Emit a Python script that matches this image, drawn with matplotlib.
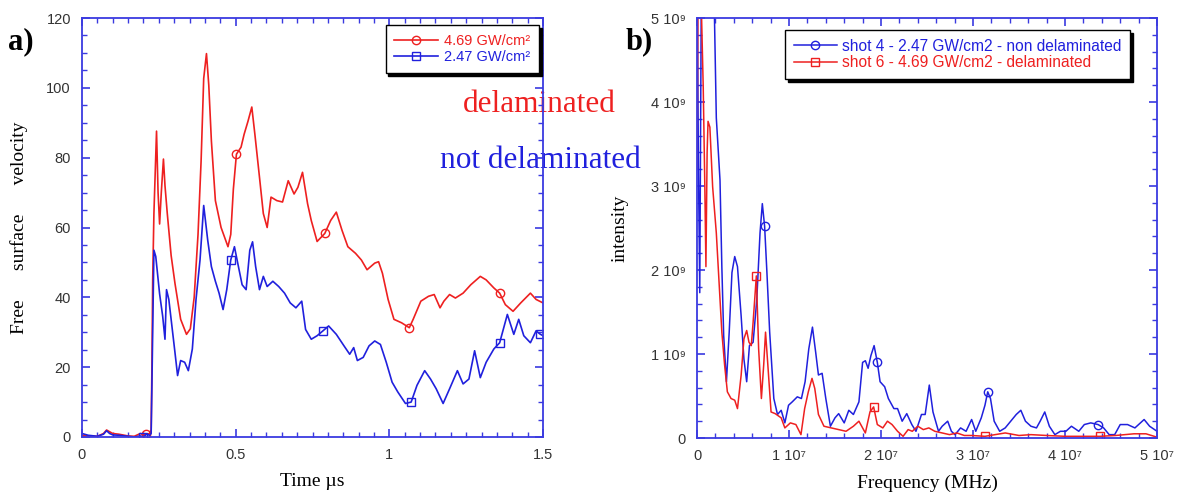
import numpy as np
import matplotlib
matplotlib.use('Agg')
import matplotlib.pyplot as plt
from matplotlib.ticker import MultipleLocator, FuncFormatter

# ---- panel a) free surface velocity vs time (us) ----
t_red = [0.0, 0.02, 0.05, 0.07, 0.08, 0.09, 0.1, 0.12, 0.15, 0.17, 0.19, 0.2, 0.209, 0.22, 0.225,
         0.2275, 0.23, 0.234, 0.2425, 0.2475, 0.2525, 0.258, 0.265, 0.27, 0.2775, 0.29, 0.3025,
         0.321, 0.34, 0.3525, 0.365, 0.3775, 0.3875, 0.396, 0.405, 0.4125, 0.421, 0.434, 0.4525,
         0.475, 0.484, 0.4925, 0.5025, 0.5175, 0.5275, 0.54, 0.5525, 0.5625, 0.5775, 0.59, 0.6025,
         0.615, 0.634, 0.6525, 0.671, 0.69, 0.7025, 0.7175, 0.734, 0.746, 0.765, 0.79, 0.809,
         0.8275, 0.846, 0.865, 0.89, 0.909, 0.9275, 0.9525, 0.965, 0.9775, 0.996, 1.015, 1.04,
         1.065, 1.0775, 1.1025, 1.1275, 1.146, 1.165, 1.1775, 1.196, 1.215, 1.24, 1.265, 1.296,
         1.315, 1.34, 1.359, 1.3775, 1.4025, 1.4275, 1.459, 1.4775, 1.5]
v_red = [0.5, 0.3, 0.2, 1.0, 2.0, 1.5, 1.0, 0.8, 0.3, 0.2, 1.0, 0.6, 0.8, 1.0, 2.0,
         20, 45, 64, 87.6, 70, 61, 70, 79.6, 72, 64, 52, 44,
         33.7, 29.4, 31, 40, 58, 79, 102.7, 109.8, 100.8, 84.8, 67.7, 60,
         54.5, 58, 71, 81, 83, 86.7, 90.4, 94.5, 86.7, 74.4, 64, 60,
         68.7, 67.7, 67.3, 73.4, 69.6, 71.5, 75.8, 66.8, 62, 56, 58.3, 62,
         64.4, 59.2, 54.5, 52.6, 50.7, 47.9, 49.8, 50.2, 46.9, 39.4, 33.7, 32.7,
         31.3, 33.7, 38.9, 40.3, 40.8, 37, 38.9, 40.8, 39.8, 41.2, 43.6, 46,
         45, 42.7, 41.2, 37.9, 36, 38.4, 41.2, 39.4, 38.4]
red_mark_t = [0.209, 0.5025, 0.79, 1.065, 1.359]

t_blue = [0.0, 0.02, 0.05, 0.07, 0.08, 0.09, 0.1, 0.12, 0.15, 0.17, 0.19, 0.2, 0.21, 0.22, 0.225,
          0.2275, 0.23, 0.234, 0.24, 0.2525, 0.2625, 0.27, 0.275, 0.2825, 0.2925, 0.3025, 0.311,
          0.321, 0.334, 0.346, 0.359, 0.371, 0.384, 0.396, 0.409, 0.421, 0.434, 0.446, 0.459,
          0.471, 0.484, 0.496, 0.509, 0.521, 0.534, 0.546, 0.555, 0.565, 0.5775, 0.59, 0.6025,
          0.621, 0.64, 0.659, 0.6775, 0.696, 0.715, 0.7275, 0.746, 0.765, 0.784, 0.8025, 0.8275,
          0.8525, 0.871, 0.884, 0.896, 0.915, 0.934, 0.9525, 0.971, 0.99, 1.009, 1.0275, 1.0525,
          1.071, 1.09, 1.115, 1.134, 1.1525, 1.175, 1.196, 1.2215, 1.24, 1.259, 1.2775, 1.296,
          1.315, 1.34, 1.359, 1.384, 1.405, 1.421, 1.4375, 1.459, 1.4775, 1.49, 1.5]
v_blue = [1.0, 0.5, 0.2, 0.8, 1.8, 1.0, 0.6, 0.5, 0.2, 0.0, 0.3, 0.0, 0.8, 0.5, 1.0,
          15, 30, 53.5, 51.7, 41, 34.6, 28, 42.2, 39.4, 31.8, 24.2, 17.6,
          21.9, 21.4, 19, 25.2, 39.4, 50.7, 66.3, 56.4, 48.8, 44.6, 41.2, 36.5,
          42.2, 50.7, 54.5, 48.8, 43.6, 42.2, 53.5, 55.9, 48.8, 42.2, 46, 43.1,
          44.6, 43.1, 41.2, 38.4, 37, 38.9, 30.8, 28, 29, 30.4, 31.8, 29.4,
          26.1, 23.7, 25.6, 21.9, 22.8, 26.1, 27.5, 26.5, 21.4, 15.7, 12.9, 9.6,
          10, 14.8, 19, 16.6, 13.8, 9.6, 13.8, 19, 15.2, 16.6, 24.7, 17,
          21.4, 25.2, 27, 35.1, 29.4, 33.7, 29, 27, 30.4, 29.5, 29]
blue_mark_t = [0.2, 0.484, 0.784, 1.071, 1.359, 1.49]

# ---- panel b) spectrum: frequency (1e6 Hz), intensity (1e9) ----
f_blue = [0, 0.15, 0.3, 0.5, 1.2, 1.9, 2.1, 2.5, 2.7, 2.9, 3.2, 3.5, 3.8, 4.1, 4.4, 4.8, 5.1, 5.4,
          5.7, 6.1, 6.5, 6.85, 7.1, 7.35, 7.6, 7.9, 8.35, 8.75, 9.15, 9.55, 9.95, 10.35, 10.9,
          11.35, 11.75, 12.15, 12.55, 12.9, 13.2, 13.6, 14.0, 14.5, 15.0, 15.4, 16.0, 16.5,
          17.0, 17.6, 18.0, 18.3, 18.6, 18.9, 19.25, 19.6, 19.9, 20.4, 20.8, 21.4, 21.8, 22.3,
          22.8, 23.35, 23.8, 24.4, 24.8, 25.25, 25.65, 26.25, 26.65, 27.25, 27.65, 28.05, 28.65,
          29.25, 29.85, 30.3, 30.9, 31.3, 31.6, 31.9, 32.3, 32.9, 33.5, 34.1, 34.7, 35.2, 35.7,
          36.3, 36.9, 37.3, 37.8, 38.3, 38.9, 39.5, 40.1, 40.7, 41.5, 42.1, 42.8, 43.6, 44.2,
          44.8, 45.4, 46.0, 46.8, 47.6, 48.6, 49.2, 50]
i_blue = [6.0, 3.3, 1.73, 6.0, 7.0, 5.0, 3.81, 3.07, 2.04, 1.22, 0.67, 1.26, 1.97, 2.16, 2.04, 1.45,
          0.94, 0.67, 1.10, 1.14, 1.65, 2.44, 2.79, 2.52, 1.97, 1.26, 0.47, 0.28, 0.33, 0.18,
          0.39, 0.43, 0.49, 0.47, 0.67, 1.06, 1.32, 1.02, 0.75, 0.77, 0.47, 0.14, 0.24, 0.29,
          0.18, 0.33, 0.28, 0.43, 0.90, 0.92, 0.83, 0.98, 1.10, 0.90, 0.67, 0.61, 0.47, 0.35,
          0.35, 0.20, 0.29, 0.16, 0.08, 0.28, 0.28, 0.63, 0.31, 0.08, 0.14, 0.20, 0.08, 0.04,
          0.12, 0.08, 0.22, 0.08, 0.24, 0.39, 0.55, 0.47, 0.20, 0.08, 0.12, 0.20, 0.28, 0.33,
          0.20, 0.14, 0.12, 0.20, 0.31, 0.14, 0.04, 0.08, 0.08, 0.14, 0.08, 0.16, 0.18, 0.16,
          0.12, 0.04, 0.04, 0.16, 0.16, 0.12, 0.22, 0.14, 0.08]
blue_mark_f = [7.35, 19.6, 31.6, 43.6]

f_red = [0, 0.15, 0.35, 0.5, 0.68, 0.85, 0.97, 1.1, 1.2, 1.4, 1.7, 2.1, 2.4, 2.7, 3.0, 3.3, 3.7,
         4.1, 4.4, 4.8, 5.1, 5.4, 5.65, 5.9, 6.1, 6.45, 6.7, 7.0, 7.25, 7.45, 7.7, 8.05, 8.5,
         9.15, 9.55, 10.15, 10.75, 11.3, 11.7, 12.1, 12.5, 12.8, 13.2, 13.8, 14.6, 15.4, 16.2,
         17.0, 17.6, 18.3, 18.8, 19.2, 19.6, 20.2, 20.7, 21.2, 21.8, 22.4, 22.95, 23.4, 24.0,
         24.6, 25.2, 25.85, 26.65, 27.45, 28.25, 29.05, 29.85, 31.3, 33.5, 35.0, 36.3, 38.0,
         40.0, 41.9, 43.8, 45.5, 47.5, 48.8, 50]
i_red = [3.2, 6.0, 6.0, 5.0, 4.16, 3.0, 2.04, 3.4, 3.77, 3.7, 2.99, 2.44, 1.85, 1.26, 0.87, 0.55,
         0.47, 0.45, 0.35, 0.75, 1.18, 1.28, 1.14, 1.10, 1.38, 1.93, 1.06, 0.47, 0.87, 1.26,
         0.87, 0.31, 0.29, 0.24, 0.12, 0.18, 0.16, 0.04, 0.35, 0.55, 0.71, 0.59, 0.28, 0.14,
         0.12, 0.10, 0.08, 0.14, 0.20, 0.06, 0.31, 0.37, 0.16, 0.12, 0.20, 0.16, 0.08, 0.02,
         0.10, 0.08, 0.14, 0.10, 0.12, 0.08, 0.06, 0.04, 0.06, 0.03, 0.03, 0.02, 0.06, 0.03,
         0.04, 0.03, 0.02, 0.02, 0.02, 0.03, 0.05, 0.05, 0.01]
red_mark_f = [6.45, 19.2, 31.3, 43.8]

RED = '#ee2020'
BLUE = '#2020dd'
SPINE = '#3a3ae0'
SANS = ['Liberation Sans', 'DejaVu Sans']
SERIF = ['Liberation Serif', 'DejaVu Serif']


def mark_idx(xs, marks):
    xs = np.asarray(xs)
    return [int(np.argmin(np.abs(xs - m))) for m in marks]


def style_axes(ax):
    ax.patch.set_alpha(0)
    for s in ax.spines.values():
        s.set_color(SPINE)
        s.set_linewidth(1.3)
    ax.tick_params(which='both', direction='in', top=True, right=True, color=SPINE,
                   labelcolor='#333333', pad=8)
    ax.tick_params(which='major', length=6, width=1.2)
    ax.tick_params(which='minor', length=3.5, width=1.0)
    for lab in ax.get_xticklabels() + ax.get_yticklabels():
        lab.set_family(SANS)
        lab.set_fontsize(10.5)


fig = plt.figure(figsize=(11.79, 4.95), dpi=100)
ax1 = fig.add_axes([82 / 1179, 1 - 437 / 495, 461 / 1179, 419 / 495])
ax2 = fig.add_axes([697 / 1179, 1 - 438 / 495, 460 / 1179, 420 / 495])

# panel a
ax1.plot(t_red, v_red, color=RED, lw=1.2, marker='o', ms=6, mfc='none', mew=1.0,
         markevery=mark_idx(t_red, red_mark_t), label='4.69 GW/cm\u00b2')
ax1.plot(t_blue, v_blue, color=BLUE, lw=1.2, marker='s', ms=6, mfc='none', mew=1.0,
         markevery=mark_idx(t_blue, blue_mark_t), label='2.47 GW/cm\u00b2')
ax1.set_xlim(0, 1.5)
ax1.set_ylim(0, 120)
ax1.xaxis.set_major_locator(MultipleLocator(0.5))
ax1.xaxis.set_minor_locator(MultipleLocator(0.05))
ax1.yaxis.set_major_locator(MultipleLocator(20))
ax1.yaxis.set_minor_locator(MultipleLocator(5))
ax1.xaxis.set_major_formatter(FuncFormatter(lambda v, p: '%g' % v))
style_axes(ax1)
ax1.set_xlabel('Time \u00b5s', family=SERIF, fontsize=14, labelpad=8)
ax1.set_ylabel('Free      surface      velocity', family=SERIF, fontsize=14, labelpad=13)
leg1 = ax1.legend(loc='upper right', bbox_to_anchor=(0.991, 0.983), borderaxespad=0,
                  fancybox=False, shadow={'color': 'black', 'alpha': 1.0}, edgecolor='black',
                  framealpha=1, handlelength=3.0, handletextpad=0.4, labelcolor='linecolor',
                  prop={'family': SANS, 'size': 10.5}, borderpad=0.6, labelspacing=0.15)
leg1.get_frame().set_linewidth(1.0)

# panel b
ax2.plot(np.array(f_blue) * 1e6, np.array(i_blue) * 1e9, color=BLUE, lw=1.1, marker='o', ms=6,
         mfc='none', mew=1.0, markevery=mark_idx(f_blue, blue_mark_f),
         label='shot 4 - 2.47 GW/cm2 - non delaminated')
ax2.plot(np.array(f_red) * 1e6, np.array(i_red) * 1e9, color=RED, lw=1.1, marker='s', ms=6,
         mfc='none', mew=1.0, markevery=mark_idx(f_red, red_mark_f),
         label='shot 6 - 4.69 GW/cm2 - delaminated')
ax2.set_xlim(0, 5e7)
ax2.set_ylim(0, 5e9)
ax2.xaxis.set_major_locator(MultipleLocator(1e7))
ax2.xaxis.set_minor_locator(MultipleLocator(2e6))
ax2.yaxis.set_major_locator(MultipleLocator(1e9))
ax2.yaxis.set_minor_locator(MultipleLocator(2e8))
ax2.xaxis.set_major_formatter(FuncFormatter(lambda v, p: '0' if v == 0 else '%d 10\u2077' % round(v / 1e7)))
ax2.yaxis.set_major_formatter(FuncFormatter(lambda v, p: '0' if v == 0 else '%d 10\u2079' % round(v / 1e9)))
style_axes(ax2)
ax2.set_xlabel('Frequency (MHz)', family=SERIF, fontsize=14, labelpad=8)
ax2.set_ylabel('intensity', family=SERIF, fontsize=14, labelpad=16)
leg2 = ax2.legend(loc='upper right', bbox_to_anchor=(0.941, 0.971), borderaxespad=0,
                  fancybox=False, shadow={'color': 'black', 'alpha': 1.0}, edgecolor='black',
                  framealpha=1, handlelength=2.8, handletextpad=0.3, labelcolor='linecolor',
                  prop={'family': SANS, 'size': 11.2}, borderpad=0.55, labelspacing=0.1)
leg2.get_frame().set_linewidth(1.0)

# annotations (drawn under the axes so the spines show through)
fig.text(8 / 1179, 1 - 42 / 495, 'a)', family=SERIF, fontsize=22, fontweight='bold',
         ha='left', va='center')
fig.text(626 / 1179, 1 - 42 / 495, 'b)', family=SERIF, fontsize=22, fontweight='bold',
         ha='left', va='center')
fig.text(463 / 1179, 1 - 105 / 495, 'delaminated', family=SERIF, fontsize=22.5, color=RED,
         ha='left', va='center', zorder=-1)
fig.text(440 / 1179, 1 - 160 / 495, 'not delaminated', family=SERIF, fontsize=22.5, color=BLUE,
         ha='left', va='center', zorder=-1)

fig.savefig('out.png', dpi=100)
